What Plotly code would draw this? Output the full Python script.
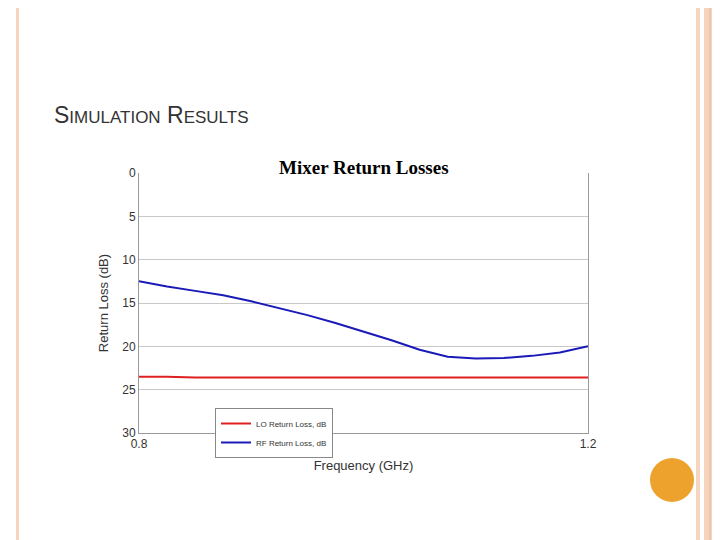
import plotly.graph_objects as go

freq = [0.80, 0.825, 0.85, 0.875, 0.90, 0.925, 0.95, 0.975, 1.00, 1.025, 1.05, 1.075, 1.10, 1.125, 1.15, 1.175, 1.20]
rf_loss = [12.5, 13.1, 13.6, 14.1, 14.8, 15.6, 16.4, 17.3, 18.3, 19.3, 20.4, 21.2, 21.4, 21.35, 21.1, 20.7, 20.0]
lo_loss = [23.5, 23.5, 23.6, 23.6, 23.6, 23.6, 23.6, 23.6, 23.6, 23.6, 23.6, 23.6, 23.6, 23.6, 23.6, 23.6, 23.6]

fig = go.Figure()
fig.add_trace(go.Scatter(x=freq, y=lo_loss, mode="lines", name="LO Return Loss, dB",
                         line=dict(color="#e02020", width=2)))
fig.add_trace(go.Scatter(x=freq, y=rf_loss, mode="lines", name="RF Return Loss, dB",
                         line=dict(color="#1a1ab8", width=2)))

fig.update_layout(
    width=720, height=540, paper_bgcolor="white", plot_bgcolor="white",
    margin=dict(l=0, r=0, t=0, b=0, autoexpand=False),
    font=dict(family="Liberation Sans", size=12, color="#333"),
    showlegend=True,
    legend=dict(x=207/720, y=1-400/540, xanchor="left", yanchor="top", bgcolor="white",
                bordercolor="#888", borderwidth=1, font=dict(size=8),
                tracegroupgap=0, itemwidth=30),
    xaxis=dict(domain=[131/720, 580/720], range=[0.8, 1.2], tickvals=[0.8, 1.2],
               ticktext=["0.8", "1.2"], showgrid=False, zeroline=False, automargin=False,
               showline=True, linecolor="#999",
               title=dict(text="Frequency (GHz)", font=dict(size=13), standoff=10)),
    yaxis=dict(domain=[1-425/540, 1-165/540], range=[30, 0], dtick=5, automargin=False,
               showgrid=True, gridcolor="#c8c8c8", zeroline=False,
               showline=True, linecolor="#999", mirror=True,
               title=dict(text="Return Loss (dB)", font=dict(size=13), standoff=10)),
    annotations=[
        dict(text="<b>Mixer Return Losses</b>", x=356/720, y=1-147/540, xref="paper", yref="paper",
             showarrow=False, font=dict(family="Liberation Serif", size=19, color="black")),
        dict(text="S<span style='font-size:17px'>IMULATION</span> R<span style='font-size:17px'>ESULTS</span>",
             x=44/720, y=1-92/540, xref="paper", yref="paper", xanchor="left", showarrow=False,
             font=dict(family="Liberation Sans", size=23, color="#333")),
    ],
    shapes=[
        dict(type="rect", xref="paper", yref="paper", x0=8/720, x1=11/720, y0=0, y1=1,
             fillcolor="#f5d5bd", line_width=0),
        dict(type="rect", xref="paper", yref="paper", x0=688/720, x1=692/720, y0=0, y1=1,
             fillcolor="#f5d5bd", line_width=0),
        dict(type="rect", xref="paper", yref="paper", x0=696/720, x1=1, y0=0, y1=1,
             fillcolor="#f5d5bd", line_width=0),
        dict(type="line", xref="paper", yref="paper", x0=702/720, x1=702/720, y0=0, y1=1,
             line=dict(color="#e8b68f", width=1)),
        dict(type="circle", xref="paper", yref="paper", x0=642/720, x1=686/720,
             y0=1-494/540, y1=1-450/540, fillcolor="#eda22e", line_width=0),
    ],
)
fig.write_html("out.html")
